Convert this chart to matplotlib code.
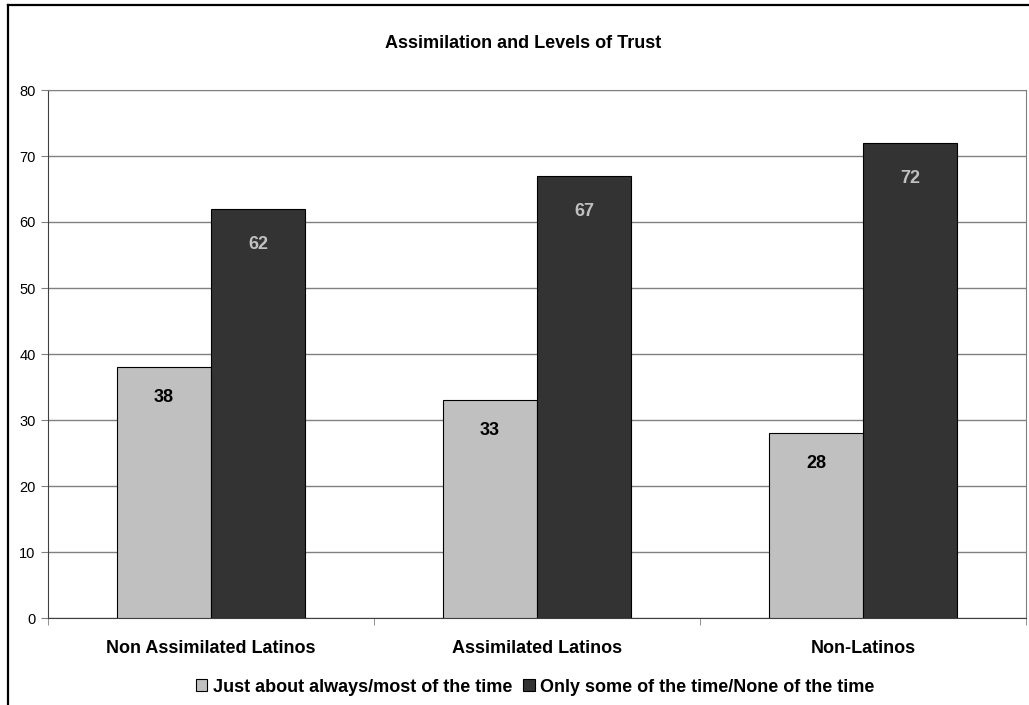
import matplotlib
matplotlib.use("Agg")
import matplotlib.pyplot as plt
from matplotlib.patches import Patch
from matplotlib.lines import Line2D
import numpy as np

categories = ["Non Assimilated Latinos", "Assimilated Latinos", "Non-Latinos"]
series_names = ["Just about always/most of the time", "Only some of the time/None of the time"]
just_about_always = [38, 33, 28]
only_some = [62, 67, 72]
yticks = [0, 10, 20, 30, 40, 50, 60, 70, 80]
title = "Assimilation and Levels of Trust"

W, H = 1029, 705
plt.rcParams['font.family'] = ['Liberation Sans', 'DejaVu Sans']
fig = plt.figure(figsize=(W / 100, H / 100), dpi=100)

# outer frame (left and top edges)
fig.add_artist(Line2D([7.5 / W, 7.5 / W], [0, 1 - 4.5 / H], transform=fig.transFigure, color='black', lw=1.6))
fig.add_artist(Line2D([7.5 / W, 1], [1 - 4.5 / H, 1 - 4.5 / H], transform=fig.transFigure, color='black', lw=1.6))

ax = fig.add_axes([48 / W, (H - 618) / H, 978 / W, 528 / H])
x = np.arange(len(categories))
bw = 0.288
light, dark = '#c0c0c0', '#333333'
b1 = ax.bar(x - bw / 2, just_about_always, bw, color=light, edgecolor='black', linewidth=0.8, zorder=3)
b2 = ax.bar(x + bw / 2, only_some, bw, color=dark, edgecolor='black', linewidth=0.8, zorder=3)

for rect, v in zip(b1, just_about_always):
    ax.annotate(str(v), (rect.get_x() + rect.get_width() / 2, v), xytext=(0, -22), textcoords='offset points',
                ha='center', va='center', fontsize=13, fontweight='bold', color='black', zorder=4)
for rect, v in zip(b2, only_some):
    ax.annotate(str(v), (rect.get_x() + rect.get_width() / 2, v), xytext=(0, -25.5), textcoords='offset points',
                ha='center', va='center', fontsize=13, fontweight='bold', color='#c0c0c0', zorder=4)

ax.set_xlim(-0.5, len(categories) - 0.5)
ax.set_ylim(0, 80)
ax.set_yticks(yticks)
ax.set_yticklabels([str(t) for t in yticks], fontsize=10.5)
ax.yaxis.grid(True, color='#808080', linewidth=1.0, zorder=0)
ax.set_axisbelow(True)

ax.set_xticks(x)
ax.set_xticklabels(categories, fontsize=13, fontweight='bold')
ax.tick_params(axis='x', length=0, pad=16)
ax.set_xticks([-0.5, 0.5, 1.5, 2.5], minor=True)
ax.tick_params(axis='x', which='minor', length=5, direction='out', color='#808080')
ax.tick_params(axis='y', length=5, direction='out', color='#808080', pad=4)

for s in ['top', 'right']:
    ax.spines[s].set_color('#808080')
ax.spines['left'].set_color('#404040')
ax.spines['bottom'].set_color('#404040')

fig.text(523 / W, 1 - 44 / H, title, ha='center', va='center', fontsize=13, fontweight='bold')

handles = [Patch(facecolor=light, edgecolor='black', linewidth=0.8),
           Patch(facecolor=dark, edgecolor='black', linewidth=0.8)]
fig.legend(handles, series_names, loc='center', bbox_to_anchor=(535 / W, 1 - 687 / H), ncol=2,
           frameon=False, prop={'size': 13, 'weight': 'bold'}, handlelength=0.65, handleheight=0.65,
           handletextpad=0.3, columnspacing=0.6)

fig.savefig('out.png', dpi=100)
